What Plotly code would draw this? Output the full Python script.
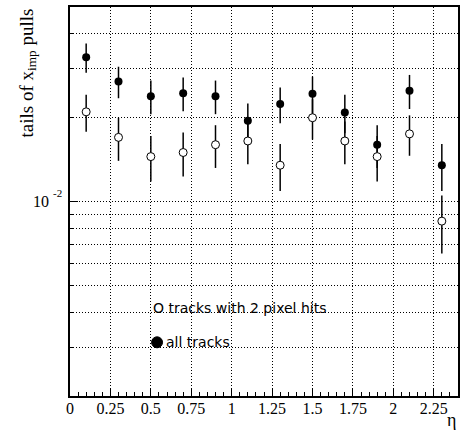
import plotly.graph_objects as go

# pseudorapidity bin centres
eta = [0.1, 0.3, 0.5, 0.7, 0.9, 1.1, 1.3, 1.5, 1.7, 1.9, 2.1, 2.3]

# fraction of tracks in the tails of the x_imp pull distribution
all_tracks = [0.0330, 0.0270, 0.0239, 0.0245, 0.0239, 0.0195,
              0.0224, 0.0244, 0.0209, 0.0160, 0.0250, 0.0135]
all_tracks_err = [0.0040, 0.0035, 0.0033, 0.0034, 0.0033, 0.0030,
                  0.0033, 0.0037, 0.0033, 0.0028, 0.0035, 0.0026]

pix2_tracks = [0.0210, 0.0170, 0.0145, 0.0150, 0.0160, 0.0165,
               0.0135, 0.0200, 0.0165, 0.0145, 0.0175, 0.0085]
pix2_tracks_err = [0.0032, 0.0030, 0.0027, 0.0027, 0.0028, 0.0029,
                   0.0026, 0.0033, 0.0029, 0.0027, 0.0029, 0.0020]

x_ticks = [0, 0.25, 0.5, 0.75, 1, 1.25, 1.5, 1.75, 2, 2.25]
x_ticklabels = ["0", "0.25", "0.5", "0.75", "1", "1.25", "1.5", "1.75", "2", "2.25"]
y_major = [0.01]
y_minor = [0.003, 0.004, 0.005, 0.006, 0.007, 0.008, 0.009,
           0.02, 0.03, 0.04]

serif = "Liberation Serif"
sans = "DejaVu Sans"
dotted = "1px,2px"

fig = go.Figure()

fig.add_trace(go.Scatter(
    x=eta, y=all_tracks, mode="markers",
    marker=dict(symbol="circle", size=8, color="black"),
    error_y=dict(type="data", array=all_tracks_err, color="black",
                 thickness=1.5, width=0),
    showlegend=False,
))
fig.add_trace(go.Scatter(
    x=eta, y=pix2_tracks, mode="markers",
    marker=dict(symbol="circle", size=8, color="white",
                line=dict(color="black", width=1)),
    error_y=dict(type="data", array=pix2_tracks_err, color="black",
                 thickness=1.5, width=0),
    showlegend=False,
))

fig.update_xaxes(
    range=[0, 2.4],
    tickmode="array", tickvals=x_ticks, ticktext=x_ticklabels,
    ticks="inside", ticklen=7, tickcolor="black",
    tickfont=dict(family=serif, size=16, color="black"),
    ticklabelstandoff=-3,
    showgrid=True, gridcolor="black", gridwidth=1, griddash=dotted,
    showline=True, linecolor="black", linewidth=1.5, mirror=True,
    zeroline=False,
    minor=dict(dtick=0.05, ticks="inside", ticklen=4, tickcolor="black",
               showgrid=False),
)
fig.update_yaxes(
    type="log",
    range=[-2.69897, -1.30103],
    tickmode="array", tickvals=y_major,
    showticklabels=False,
    ticks="inside", ticklen=8, tickcolor="black",
    showgrid=True, gridcolor="black", gridwidth=1, griddash=dotted,
    showline=True, linecolor="black", linewidth=1.5, mirror=True,
    zeroline=False,
    minor=dict(tickmode="array", tickvals=y_minor, ticks="inside",
               ticklen=4, tickcolor="black",
               showgrid=True, gridcolor="black", gridwidth=1, griddash=dotted),
)

annotations = [
    dict(text="tails of x<sub>imp</sub> pulls", xref="paper", yref="paper",
         x=0, y=1, xshift=-43, xanchor="center", yanchor="top",
         textangle=-90, showarrow=False,
         font=dict(family=serif, size=19, color="black")),
    dict(text="10", xref="paper", yref="y", x=0, y=-2, xshift=-19,
         xanchor="right", yanchor="middle", showarrow=False,
         font=dict(family=serif, size=16, color="black")),
    dict(text="-2", xref="paper", yref="y", x=0, y=-2, xshift=-19, yshift=9,
         xanchor="left", yanchor="middle", showarrow=False,
         font=dict(family=serif, size=11, color="black")),
    dict(text="η", xref="paper", yref="paper", x=1, y=0, xshift=-1, yshift=-35,
         xanchor="right", yanchor="bottom", showarrow=False, borderpad=0,
         font=dict(family=serif, size=18, color="black")),
    dict(text="O tracks with 2 pixel hits", xref="paper", yref="paper",
         x=(151 - 70) / 390, y=(396 - 307.7) / 389,
         xanchor="left", yanchor="middle", showarrow=False,
         font=dict(family=sans, size=14, color="black")),
    dict(text="all tracks", xref="paper", yref="paper",
         x=(164 - 70) / 390, y=(396 - 342.3) / 389,
         xanchor="left", yanchor="middle", showarrow=False,
         font=dict(family=sans, size=14, color="black")),
]

shapes = [
    dict(type="circle", xref="paper", yref="paper",
         xsizemode="pixel", ysizemode="pixel",
         xanchor=(157.5 - 70) / 390, yanchor=(396 - 342.3) / 389,
         x0=-5.5, x1=5.5, y0=-5.5, y1=5.5,
         fillcolor="black", line=dict(color="black", width=1)),
]

fig.update_layout(
    width=461, height=431,
    margin=dict(l=70, r=1, t=7, b=35),
    font=dict(family=serif, color="black"),
    paper_bgcolor="white", plot_bgcolor="white",
    annotations=annotations, shapes=shapes,
    showlegend=False,
)

fig.write_html("out.html")
